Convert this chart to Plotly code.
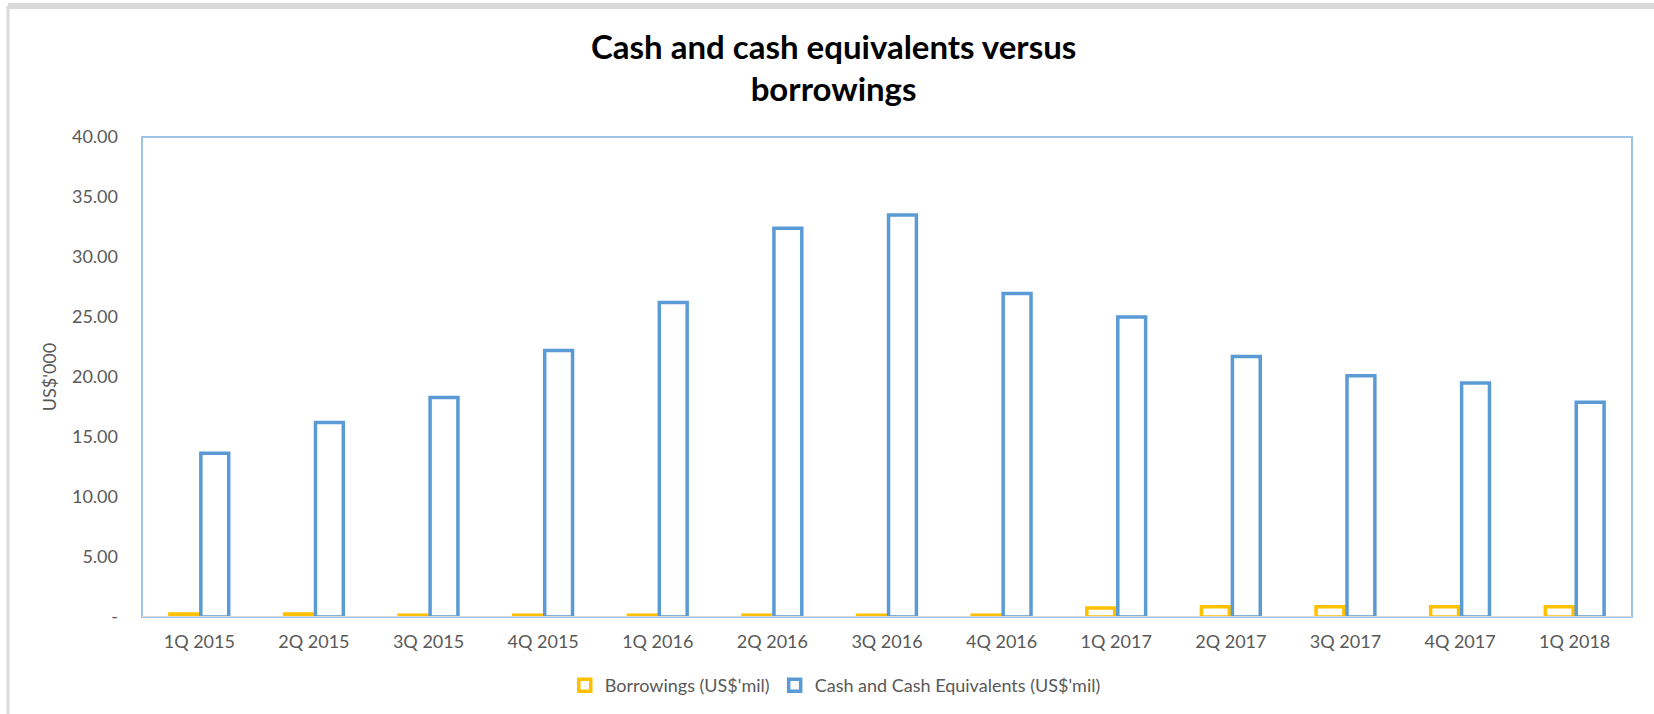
import plotly.graph_objects as go

quarters = ["1Q 2015", "2Q 2015", "3Q 2015", "4Q 2015", "1Q 2016", "2Q 2016", "3Q 2016",
            "4Q 2016", "1Q 2017", "2Q 2017", "3Q 2017", "4Q 2017", "1Q 2018"]
borrowings = [0.25, 0.25, 0.15, 0.15, 0.15, 0.15, 0.15, 0.15, 0.75, 0.85, 0.85, 0.85, 0.85]
cash = [13.65, 16.2, 18.3, 22.2, 26.2, 32.4, 33.5, 26.95, 25.0, 21.7, 20.1, 19.5, 17.9]
ytick_vals = [0, 5, 10, 15, 20, 25, 30, 35, 40]
ytick_text = ["-", "5.00", "10.00", "15.00", "20.00", "25.00", "30.00", "35.00", "40.00"]

FONT = "Lato"
GREY = "#595959"

fig = go.Figure()
fig.add_trace(go.Bar(
    x=quarters, y=borrowings, name="Borrowings (US$'mil)",
    marker=dict(color="white", line=dict(color="#FFC000", width=3.5)),
))
fig.add_trace(go.Bar(
    x=quarters, y=cash, name="Cash and Cash Equivalents (US$'mil)",
    marker=dict(color="white", line=dict(color="#5B9BD5", width=3.5)),
))

fig.update_layout(
    width=1654, height=714,
    paper_bgcolor="white", plot_bgcolor="white",
    margin=dict(l=142, r=22, t=137, b=97),
    barmode="group", bargap=0.46, bargroupgap=0.1,
    title=dict(
        text="<b>Cash and cash equivalents versus<br>borrowings</b>",
        x=0.504, xanchor="center", xref="container",
        y=1 - 58.5 / 714, yanchor="middle", yref="container",
        font=dict(family=FONT, size=33, color="black"),
    ),
    font=dict(family=FONT, size=18, color=GREY),
    showlegend=True,
    legend=dict(
        orientation="h", xref="container", x=0.505, xanchor="center",
        yref="container", y=0.04, yanchor="middle",
        font=dict(family=FONT, size=18, color=GREY),
        itemwidth=30, traceorder="normal",
    ),
    xaxis=dict(
        showgrid=False, showline=False, zeroline=False,
        ticks="", tickfont=dict(family=FONT, size=18, color=GREY),
        ticklabelstandoff=12,
    ),
    yaxis=dict(
        range=[0, 40], tickvals=ytick_vals, ticktext=ytick_text,
        showgrid=False, zeroline=False, showline=False,
        ticks="", ticklabelstandoff=23,
        tickfont=dict(family=FONT, size=18, color=GREY),
        title=dict(text="US$'000", font=dict(family=FONT, size=18, color=GREY), standoff=10),
    ),
    shapes=[
        dict(type="rect", xref="paper", yref="paper", x0=0, x1=1, y0=0, y1=1,
             line=dict(color="#9DC3E6", width=2), layer="below"),
        dict(type="line", xref="paper", yref="y", x0=0, x1=1, y0=0, y1=0,
             line=dict(color="#D9D9D9", width=2), layer="above"),
        dict(type="line", xref="paper", yref="paper",
             x0=-134 / 1490, x1=-134 / 1490, y0=-97 / 480, y1=131 / 480 + 1,
             line=dict(color="#D9D9D9", width=3)),
        dict(type="line", xref="paper", yref="paper",
             x0=-134 / 1490, x1=1 + 22 / 1490, y0=131 / 480 + 1, y1=131 / 480 + 1,
             line=dict(color="#D9D9D9", width=6)),
    ],
)

fig.write_html("out.html", config={"displayModeBar": False},
               post_script="document.body.style.margin='0';")
